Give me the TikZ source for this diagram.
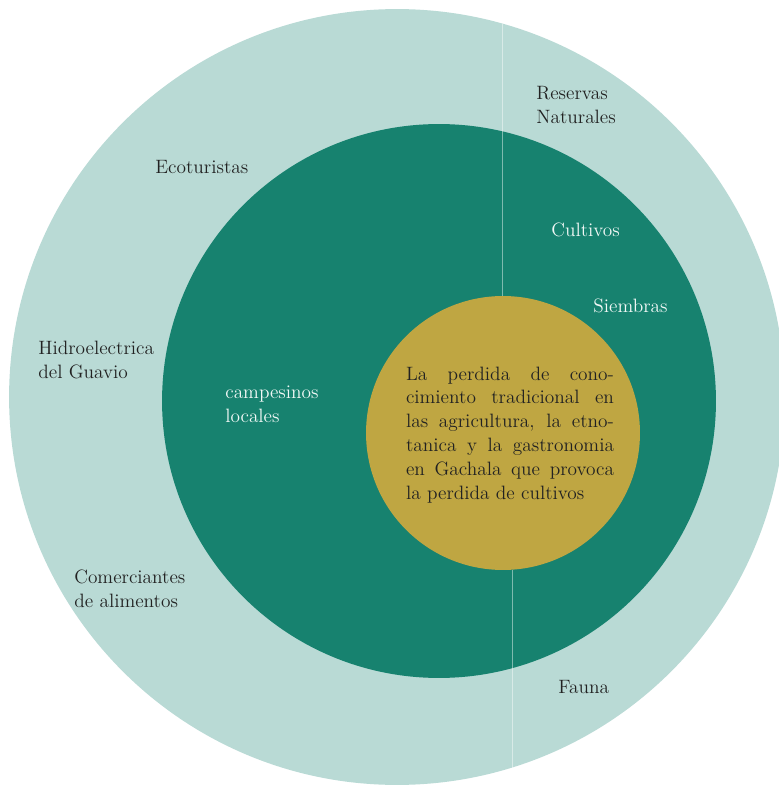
\documentclass[tikz,border=0pt]{standalone}
\usepackage{tikz}
\definecolor{outerc}{HTML}{B9DAD5}
\definecolor{midc}{HTML}{17826F}
\definecolor{corec}{HTML}{BFA642}
\definecolor{ink}{HTML}{222222}
\begin{document}
\begin{tikzpicture}[x=0.02cm, y=-0.02cm,
    ring/.style={circle, inner sep=0pt, outer sep=0pt},
    dark/.style={anchor=west, inner sep=0pt, align=left, text=ink,
        font=\fontsize{11}{13.6}\selectfont},
    light/.style={dark, text=white!94!midc},
    divider/.style={white, opacity=0.45, line width=0.5pt}
    ]
\useasboundingbox (0,0) rectangle (778,786);
% rings
\node[ring, fill=outerc, minimum size=15.52cm] (outer) at (397,397) {};
\node[ring, fill=midc, minimum size=11.08cm]   (mid)   at (439,401) {};
\node[ring, fill=corec, minimum size=5.48cm]   (core)  at (503,433) {};
% dividers
\coordinate (t1) at (502,24);
\coordinate (b1) at (512,768);
\draw[divider] (t1) -- (core.north -| t1);
\draw[divider] (core.south -| b1) -- (b1);
% labels
\node[dark]  (reservas)  at (536,105) {Reservas\\Naturales};
\node[dark]  (eco)       at (155,167) {Ecoturistas};
\node[light] (cultivos)  at (551,230) {Cultivos};
\node[light] (siembras)  at (593,306) {Siembras};
\node[dark]  (hidro)     at (38,360)  {Hidroelectrica\\del Guavio};
\node[light] (campesinos) at (225,404) {campesinos\\locales};
\node[dark]  (comercio)  at (74,589)  {Comerciantes\\de alimentos};
\node[dark]  (fauna)     at (558,687) {Fauna};
\node[dark, anchor=center, text width=4.16cm, align=justify] (problem) at (510,435)
    {La perdida de cono-\linebreak cimiento tradicional en\linebreak
     las agricultura, la etno-\linebreak tanica y la gastronomia\linebreak
     en Gachala que provoca\linebreak la perdida de cultivos};
\end{tikzpicture}
\end{document}
